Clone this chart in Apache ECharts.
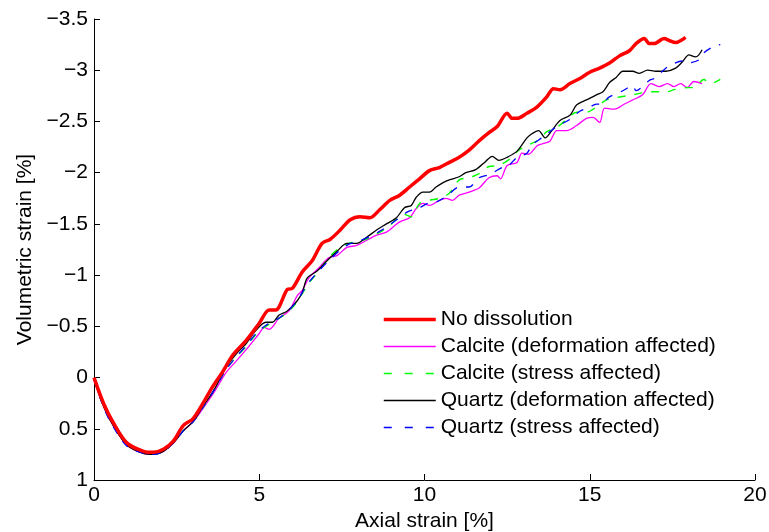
<!DOCTYPE html>
<html>
<head>
<meta charset="utf-8">
<script src="https://cdn.jsdelivr.net/npm/echarts@6/dist/echarts.min.js"></script>
<style>html,body{margin:0;padding:0;background:#fff}#c{width:769px;height:532px}</style>
</head>
<body>
<div id="c"></div>
<script>
const seriesNames = ["No dissolution", "Calcite (deformation affected)", "Calcite (stress affected)", "Quartz (deformation affected)", "Quartz (stress affected)"];
const xTicks = [0, 5, 10, 15, 20];
const yTicks = [-3.5, -3, -2.5, -2, -1.5, -1, -0.5, 0, 0.5, 1];

const redX = [0, 0.3, 0.6, 1.0, 1.5, 1.8, 2.1, 2.4, 2.7, 3.0, 3.3, 3.55, 3.9, 4.2, 4.6, 5.0, 5.3, 5.5, 5.85, 6.0, 6.3, 6.6, 6.9, 7.15, 7.45, 7.75, 8.05, 8.35, 8.65, 8.95, 9.25, 9.55, 9.85, 10.15, 10.45, 10.75, 11.05, 11.35, 11.65, 11.95, 12.2, 12.5, 12.65, 12.8, 13.1, 13.4, 13.7, 13.9, 14.1, 14.4, 14.7, 15.0, 15.3, 15.6, 15.9, 16.2, 16.4, 16.65, 16.8, 16.95, 17.25, 17.4, 17.6, 17.9];
const redY = [0, 0.26, 0.45, 0.64, 0.72, 0.73, 0.70, 0.62, 0.47, 0.40, 0.25, 0.11, -0.06, -0.22, -0.36, -0.53, -0.66, -0.66, -0.86, -0.87, -1.03, -1.14, -1.31, -1.35, -1.44, -1.54, -1.57, -1.56, -1.64, -1.73, -1.78, -1.86, -1.94, -2.02, -2.05, -2.10, -2.15, -2.22, -2.31, -2.39, -2.45, -2.58, -2.53, -2.53, -2.58, -2.64, -2.74, -2.82, -2.81, -2.87, -2.92, -2.98, -3.02, -3.07, -3.14, -3.19, -3.26, -3.31, -3.26, -3.26, -3.31, -3.29, -3.27, -3.32];

const calDefX = [0, 0.3, 0.6, 1.0, 1.5, 1.8, 2.1, 2.4, 2.7, 3.0, 3.3, 3.6, 4.0, 4.3, 4.6, 5.0, 5.15, 5.3, 5.6, 5.9, 6.15, 6.3, 6.5, 6.8, 7.1, 7.35, 7.65, 7.95, 8.25, 8.55, 8.85, 9.05, 9.25, 9.55, 9.75, 9.95, 10.15, 10.45, 10.65, 10.85, 11.05, 11.35, 11.65, 11.95, 12.2, 12.3, 12.5, 12.8, 12.95, 13.15, 13.4, 13.55, 13.8, 14.0, 14.3, 14.6, 14.9, 15.1, 15.3, 15.45, 15.75, 16.05, 16.3, 16.6, 16.85, 17.1, 17.35, 17.55, 17.75, 17.95, 18.15, 18.4];
const calDefY = [0.02, 0.29, 0.48, 0.66, 0.74, 0.75, 0.72, 0.64, 0.52, 0.43, 0.30, 0.16, -0.05, -0.16, -0.27, -0.43, -0.49, -0.47, -0.58, -0.65, -0.80, -0.85, -0.97, -1.07, -1.17, -1.19, -1.27, -1.29, -1.34, -1.39, -1.42, -1.47, -1.52, -1.56, -1.65, -1.70, -1.68, -1.73, -1.75, -1.73, -1.78, -1.81, -1.85, -1.95, -1.97, -1.94, -2.07, -2.10, -2.19, -2.18, -2.26, -2.28, -2.31, -2.41, -2.41, -2.46, -2.53, -2.54, -2.49, -2.63, -2.62, -2.67, -2.71, -2.76, -2.87, -2.84, -2.87, -2.84, -2.87, -2.83, -2.89, -2.87];

const calStrX = [0, 0.3, 0.6, 1.0, 1.5, 1.8, 2.1, 2.4, 2.7, 3.0, 3.3, 3.6, 4.0, 4.3, 4.6, 4.9, 5.2, 5.5, 5.8, 6.1, 6.3, 6.5, 6.8, 7.1, 7.4, 7.7, 8.0, 8.3, 8.6, 8.9, 9.2, 9.4, 9.6, 9.85, 10.15, 10.45, 10.75, 11.05, 11.35, 11.65, 11.95, 12.25, 12.65, 12.85, 13.15, 13.45, 13.7, 14.0, 14.3, 14.6, 14.9, 15.2, 15.5, 15.75, 16.3, 16.85, 17.35, 17.55, 17.95, 18.15, 18.45, 18.65, 18.95];
const calStrY = [0.02, 0.29, 0.48, 0.66, 0.74, 0.75, 0.72, 0.64, 0.52, 0.43, 0.29, 0.14, -0.08, -0.20, -0.30, -0.42, -0.50, -0.56, -0.62, -0.72, -0.82, -0.92, -1.04, -1.17, -1.26, -1.31, -1.33, -1.36, -1.41, -1.47, -1.56, -1.59, -1.57, -1.70, -1.73, -1.75, -1.80, -1.93, -1.95, -1.99, -2.06, -2.07, -2.15, -2.22, -2.27, -2.32, -2.40, -2.44, -2.52, -2.59, -2.59, -2.64, -2.71, -2.73, -2.76, -2.79, -2.79, -2.81, -2.83, -2.83, -2.91, -2.87, -2.91];

const qtzDefX = [0, 0.3, 0.6, 1.0, 1.5, 1.8, 2.1, 2.4, 2.7, 3.0, 3.3, 3.6, 4.0, 4.3, 4.6, 4.9, 5.2, 5.4, 5.6, 5.85, 6.15, 6.3, 6.45, 6.75, 7.05, 7.35, 7.65, 7.95, 8.25, 8.55, 8.85, 9.15, 9.4, 9.6, 9.75, 9.95, 10.15, 10.35, 10.55, 10.75, 11.05, 11.25, 11.55, 11.85, 12.05, 12.25, 12.5, 12.8, 13.1, 13.25, 13.45, 13.65, 13.85, 14.1, 14.4, 14.6, 14.9, 15.2, 15.4, 15.6, 15.8, 16.0, 16.3, 16.5, 16.75, 17.0, 17.3, 17.6, 17.8, 18.0, 18.2, 18.3, 18.4];
const qtzDefY = [0.02, 0.29, 0.48, 0.66, 0.74, 0.75, 0.72, 0.64, 0.52, 0.43, 0.28, 0.14, -0.10, -0.23, -0.33, -0.46, -0.54, -0.54, -0.61, -0.65, -0.75, -0.83, -0.97, -1.04, -1.14, -1.23, -1.31, -1.31, -1.37, -1.44, -1.50, -1.56, -1.66, -1.68, -1.76, -1.81, -1.81, -1.86, -1.90, -1.93, -1.96, -2.00, -2.03, -2.11, -2.16, -2.12, -2.15, -2.21, -2.34, -2.38, -2.41, -2.34, -2.41, -2.51, -2.56, -2.66, -2.71, -2.76, -2.79, -2.88, -2.93, -2.99, -2.99, -2.97, -3.00, -2.99, -2.99, -3.02, -3.08, -3.15, -3.13, -3.15, -3.20];

const qtzStrX = [0, 0.3, 0.6, 1.0, 1.5, 1.8, 2.1, 2.4, 2.7, 3.0, 3.3, 3.6, 4.0, 4.3, 4.6, 4.9, 5.2, 5.5, 5.8, 6.1, 6.3, 6.5, 6.8, 7.1, 7.4, 7.7, 8.0, 8.3, 8.6, 8.9, 9.2, 9.5, 9.8, 10.1, 10.4, 10.7, 11.05, 11.35, 11.65, 11.95, 12.35, 12.55, 12.8, 13.1, 13.25, 13.55, 14.0, 14.4, 14.7, 15.0, 15.2, 15.4, 15.55, 16.0, 16.3, 16.4, 16.8, 16.95, 17.3, 17.45, 17.8, 17.95, 18.3, 18.45, 18.8, 18.95];
const qtzStrY = [0.02, 0.30, 0.49, 0.67, 0.74, 0.75, 0.72, 0.64, 0.52, 0.43, 0.29, 0.14, -0.08, -0.20, -0.31, -0.43, -0.51, -0.56, -0.63, -0.73, -0.83, -0.93, -1.04, -1.14, -1.23, -1.30, -1.33, -1.37, -1.42, -1.48, -1.55, -1.62, -1.65, -1.70, -1.72, -1.78, -1.86, -1.86, -1.95, -1.98, -2.05, -2.07, -2.15, -2.19, -2.27, -2.34, -2.45, -2.52, -2.60, -2.64, -2.67, -2.67, -2.73, -2.80, -2.85, -2.80, -2.90, -2.92, -3.02, -3.05, -3.09, -3.07, -3.10, -3.17, -3.24, -3.25];

function pairs(xs, ys) { return xs.map((x, i) => [x, ys[i]]); }
const FONT = 'Liberation Sans, Arial, Helvetica, sans-serif';
const FS = 21;
function fmt(v) { return String(v).replace('-', '\u2212'); }

const chart = echarts.init(document.getElementById('c'), null, { renderer: 'canvas' });
chart.setOption({
  animation: false,
  backgroundColor: '#ffffff',
  grid: { left: 94, right: 14, top: 19, bottom: 52, containLabel: false, outerBoundsMode: 'none' },
  legend: {
    orient: 'vertical', left: 382, top: 309, align: 'left', padding: 0,
    itemWidth: 52, itemHeight: 14, itemGap: 6,
    itemStyle: { opacity: 0, borderWidth: 0 },
    textStyle: { fontFamily: FONT, fontSize: FS, color: '#000', lineHeight: 21 },
    data: [
      { name: seriesNames[0], lineStyle: { width: 3.5 } },
      { name: seriesNames[1], lineStyle: { width: 1.3 } },
      { name: seriesNames[2], lineStyle: { width: 1.3, type: [8, 13] } },
      { name: seriesNames[3], lineStyle: { width: 1.3 } },
      { name: seriesNames[4], lineStyle: { width: 1.3, type: [8, 13] } }
    ]
  },
  xAxis: {
    type: 'value', min: 0, max: 20, interval: 5,
    name: 'Axial strain [%]', nameLocation: 'middle', nameGap: 29,
    nameTextStyle: { fontFamily: FONT, fontSize: FS, color: '#000' },
    axisLine: { show: true, onZero: false, lineStyle: { color: '#000', width: 1 } },
    axisTick: { show: true, inside: true, length: 6, lineStyle: { color: '#000' } },
    axisLabel: { fontFamily: FONT, fontSize: FS, color: '#000', margin: 5, formatter: v => fmt(v) },
    splitLine: { show: false }
  },
  yAxis: {
    type: 'value', min: -3.5, max: 1, interval: 0.5, inverse: true,
    name: 'Volumetric strain [%]', nameLocation: 'middle', nameGap: 48, nameRotate: 90,
    nameTextStyle: { fontFamily: FONT, fontSize: FS, color: '#000' },
    axisLine: { show: true, onZero: false, lineStyle: { color: '#000', width: 1 } },
    axisTick: { show: true, inside: true, length: 6, lineStyle: { color: '#000' } },
    axisLabel: { fontFamily: FONT, fontSize: FS, color: '#000', margin: 6, formatter: v => fmt(v) },
    splitLine: { show: false }
  },
  series: [
    { name: seriesNames[0], type: 'line', data: pairs(redX, redY), showSymbol: false, symbol: 'none', smooth: 0.3,
      lineStyle: { color: '#ff0000', width: 3.5 }, itemStyle: { color: '#ff0000' }, z: 5 },
    { name: seriesNames[1], type: 'line', data: pairs(calDefX, calDefY), showSymbol: false, symbol: 'none', smooth: 0.3,
      lineStyle: { color: '#ff00ff', width: 1.3 }, itemStyle: { color: '#ff00ff' }, z: 2 },
    { name: seriesNames[2], type: 'line', data: pairs(calStrX, calStrY), showSymbol: false, symbol: 'none', smooth: 0.3,
      lineStyle: { color: '#00ff00', width: 1.4, type: [8, 9] }, itemStyle: { color: '#00ff00' }, z: 3 },
    { name: seriesNames[3], type: 'line', data: pairs(qtzDefX, qtzDefY), showSymbol: false, symbol: 'none', smooth: 0.3,
      lineStyle: { color: '#000000', width: 1.3 }, itemStyle: { color: '#000000' }, z: 3 },
    { name: seriesNames[4], type: 'line', data: pairs(qtzStrX, qtzStrY), showSymbol: false, symbol: 'none', smooth: 0.3,
      lineStyle: { color: '#0000ff', width: 1.3, type: [8, 9] }, itemStyle: { color: '#0000ff' }, z: 4 }
  ]
});
</script>
</body>
</html>
